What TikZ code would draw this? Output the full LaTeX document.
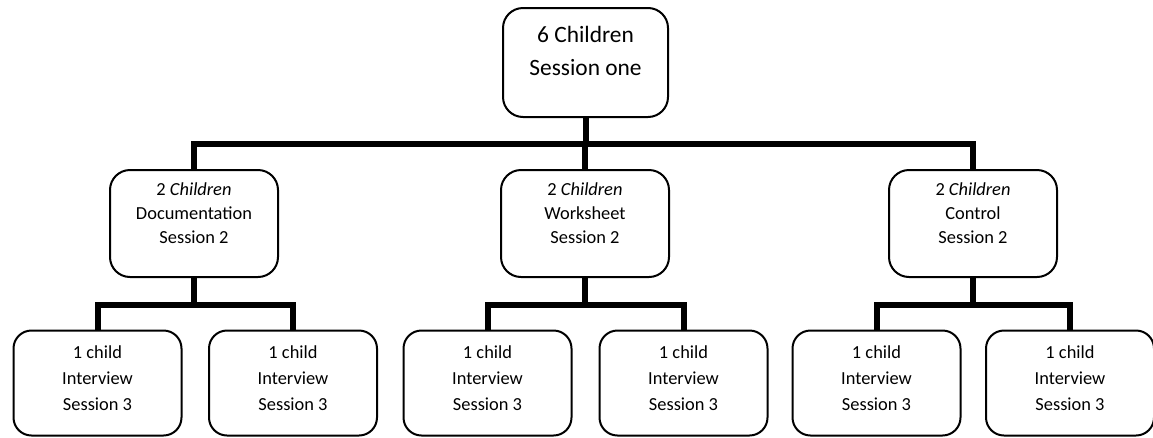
\documentclass[tikz,border=0pt]{standalone}
\usepackage{fontspec}
\setmainfont{Carlito}
\begin{document}
\begin{tikzpicture}[x=1pt,y=-1pt,
  topbox/.style={draw=black,line width=2pt,rounded corners=20pt,fill=white,
    minimum width=165pt,minimum height=109pt,inner sep=0pt,align=center,
    text height=35pt,text depth=10pt,
    font=\fontsize{23.4}{33}\selectfont},
  midbox/.style={draw=black,line width=2pt,rounded corners=20pt,fill=white,
    minimum width=168pt,minimum height=107pt,inner sep=0pt,align=center,
    text height=45pt,text depth=6pt,
    font=\fontsize{18.4}{24}\selectfont},
  lowbox/.style={draw=black,line width=2pt,rounded corners=18pt,fill=white,
    minimum width=168pt,minimum height=105pt,inner sep=0pt,align=center,
    text height=60pt,text depth=6pt,
    font=\fontsize{18.4}{26}\selectfont},
  conn/.style={draw=black,line width=6pt,line join=miter}]
\useasboundingbox (0,0) rectangle (1153,437);
\fill[white] (0,0) rectangle (1153,437);

\coordinate (b0) at (585.5,144);
\coordinate (c1) at (194,305);
\coordinate (c2) at (585,305);
\coordinate (c3) at (973,305);

\node[topbox] (top) at (585.5,62.5) {6 Children\\Session one};
\node[midbox] (m1) at (194,223.5) {2 \textit{Children}\\Documentation\\Session 2};
\node[midbox] (m2) at (585,223.5) {2 \textit{Children}\\Worksheet\\Session 2};
\node[midbox] (m3) at (973,223.5) {2 \textit{Children}\\Control\\Session 2};
\node[lowbox] (l1) at (97.5,383) {1 child\\Interview\\Session 3};
\node[lowbox] (l2) at (293,383) {1 child\\Interview\\Session 3};
\node[lowbox] (l3) at (487.5,383) {1 child\\Interview\\Session 3};
\node[lowbox] (l4) at (683.5,383) {1 child\\Interview\\Session 3};
\node[lowbox] (l5) at (876.5,383) {1 child\\Interview\\Session 3};
\node[lowbox] (l6) at (1070,383) {1 child\\Interview\\Session 3};

\draw[conn] (top.south) -- (b0);
\draw[conn] (m1.north) |- (b0) -| (m3.north);
\draw[conn] (m2.north) -- (m2.north |- b0);

\draw[conn] (m1.south) -- (c1);
\draw[conn] (l1.north) |- (c1) -| (l2.north);
\draw[conn] (m2.south) -- (c2);
\draw[conn] (l3.north) |- (c2) -| (l4.north);
\draw[conn] (m3.south) -- (c3);
\draw[conn] (l5.north) |- (c3) -| (l6.north);
\end{tikzpicture}
\end{document}
